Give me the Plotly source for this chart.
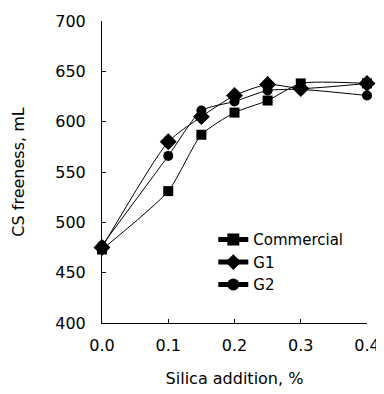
import plotly.graph_objects as go

silica = [0.0, 0.1, 0.15, 0.2, 0.25, 0.3, 0.4]
commercial = [473, 531, 587, 609, 621, 638, 638]
g1 = [475, 580, 605, 626, 637, 633, 638]
g2 = [477, 566, 611, 620, 631, 632, 626]

x_ticks = [0.0, 0.1, 0.2, 0.3, 0.4]
x_tick_labels = ["0.0", "0.1", "0.2", "0.3", "0.4"]
y_ticks = [400, 450, 500, 550, 600, 650, 700]

FONT = "DejaVu Sans"

fig = go.Figure()
series = [
    ("Commercial", commercial, "square", 10),
    ("G1", g1, "diamond", 13),
    ("G2", g2, "circle", 10),
]
for name, vals, sym, sz in series:
    fig.add_trace(go.Scatter(
        x=silica, y=vals, name=name, mode="lines+markers",
        line=dict(color="black", width=1, shape="spline", smoothing=0.6),
        marker=dict(symbol=sym, size=sz, color="black"),
        cliponaxis=False,
    ))

fig.update_layout(
    width=376, height=386,
    margin=dict(l=94, r=17, t=13, b=71, autoexpand=False),
    paper_bgcolor="white", plot_bgcolor="white",
    font=dict(family=FONT, size=16, color="black"),
    showlegend=True,
    legend=dict(
        x=0.42, y=0.33, xanchor="left", yanchor="top",
        bgcolor="rgba(0,0,0,0)", font=dict(family=FONT, size=15, color="black"),
        tracegroupgap=0, itemsizing="constant",
    ),
)
fig.update_xaxes(
    range=[0, 0.4], tickvals=x_ticks, ticktext=x_tick_labels,
    showline=True, linecolor="black", linewidth=1, mirror=False,
    ticks="inside", ticklen=4, tickcolor="black", automargin=False,
    showgrid=False, zeroline=False, ticklabelstandoff=8,
    title=dict(text="Silica addition, %", font=dict(family=FONT, size=16), standoff=18),
)
fig.update_yaxes(
    range=[400, 700], tickvals=y_ticks,
    showline=True, linecolor="black", linewidth=1, mirror=False,
    ticks="inside", ticklen=4, tickcolor="black", automargin=False,
    showgrid=False, zeroline=False, ticklabelstandoff=12,
    title=dict(text="CS freeness, mL", font=dict(family=FONT, size=16), standoff=26),
)

fig.write_html("out.html")
